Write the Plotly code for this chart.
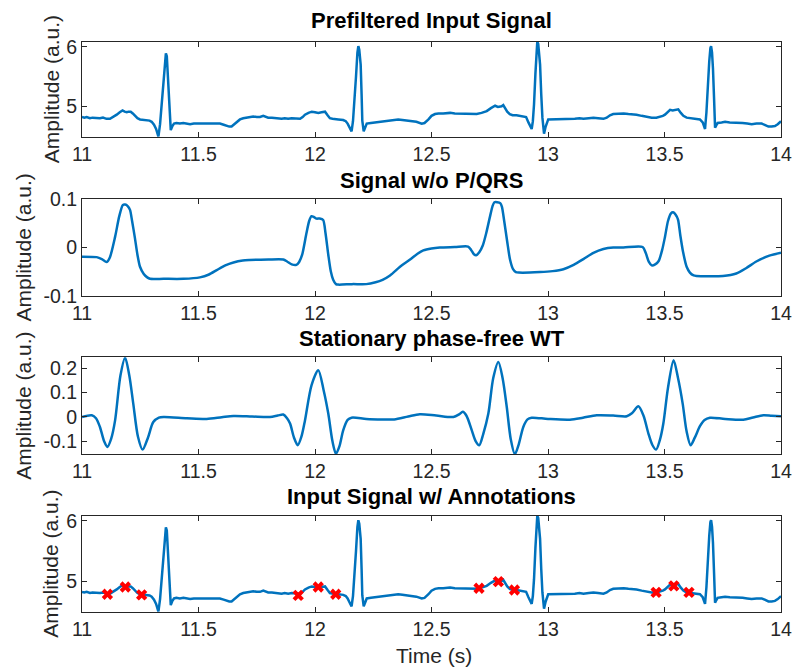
import plotly.graph_objects as go

# ---------------- data ----------------
ecg_t = [11.000, 11.010, 11.020, 11.034, 11.045, 11.060, 11.077, 11.090, 11.105, 11.120, 11.135, 11.149, 11.162, 11.174,
         11.183, 11.192, 11.200, 11.209, 11.218, 11.227, 11.238, 11.249, 11.262, 11.278, 11.290, 11.299, 11.309, 11.318,
         11.328, 11.335, 11.342, 11.350, 11.356, 11.360, 11.364, 11.370, 11.375, 11.378, 11.381, 11.388, 11.395, 11.405,
         11.420, 11.435, 11.450, 11.464, 11.480, 11.495, 11.506, 11.520, 11.535, 11.549, 11.565, 11.580, 11.592, 11.608,
         11.621, 11.632, 11.642, 11.653, 11.664, 11.678, 11.692, 11.705, 11.720, 11.735, 11.750, 11.764, 11.778, 11.790,
         11.799, 11.815, 11.830, 11.845, 11.857, 11.870, 11.885, 11.900, 11.920, 11.936, 11.947, 11.957, 11.972, 11.986,
         12.000, 12.014, 12.028, 12.043, 12.054, 12.064, 12.075, 12.086, 12.100, 12.121, 12.132, 12.140, 12.150, 12.157,
         12.163, 12.169, 12.176, 12.182, 12.186, 12.190, 12.196, 12.200, 12.203, 12.209, 12.215, 12.222, 12.240, 12.258,
         12.275, 12.295, 12.315, 12.335, 12.357, 12.375, 12.395, 12.415, 12.435, 12.458, 12.470, 12.487, 12.500, 12.515,
         12.530, 12.550, 12.580, 12.600, 12.620, 12.637, 12.660, 12.680, 12.694, 12.715, 12.737, 12.755, 12.773, 12.785,
         12.794, 12.801, 12.808, 12.816, 12.825, 12.836, 12.848, 12.865, 12.880, 12.895, 12.906, 12.916, 12.924, 12.930,
         12.935, 12.940, 12.946, 12.951, 12.954, 12.958, 12.962, 12.966, 12.971, 12.976, 12.983, 12.990, 13.001, 13.020,
         13.037, 13.060, 13.080, 13.094, 13.115, 13.135, 13.152, 13.175, 13.195, 13.215, 13.238, 13.252, 13.266, 13.280,
         13.302, 13.325, 13.345, 13.359, 13.380, 13.402, 13.425, 13.445, 13.465, 13.481, 13.493, 13.502, 13.514, 13.524,
         13.535, 13.545, 13.559, 13.570, 13.581, 13.595, 13.609, 13.630, 13.652, 13.664, 13.669, 13.674, 13.680, 13.685,
         13.692, 13.697, 13.700, 13.704, 13.708, 13.713, 13.717, 13.722, 13.728, 13.745, 13.760, 13.780, 13.800, 13.817,
         13.835, 13.855, 13.874, 13.895, 13.917, 13.930, 13.946, 13.960, 13.974, 13.986, 13.996, 14.000]
ecg_y = [4.82, 4.81, 4.82, 4.80, 4.81, 4.80, 4.80, 4.81, 4.79, 4.79, 4.82, 4.86, 4.90, 4.93,
         4.91, 4.90, 4.91, 4.91, 4.88, 4.84, 4.80, 4.78, 4.77, 4.76, 4.76, 4.74, 4.69, 4.62,
         4.49, 4.70, 5.03, 5.50, 5.82, 5.89, 5.84, 5.45, 5.00, 4.76, 4.60, 4.67, 4.71, 4.72,
         4.71, 4.72, 4.71, 4.70, 4.71, 4.71, 4.72, 4.71, 4.72, 4.71, 4.72, 4.71, 4.71, 4.69,
         4.67, 4.66, 4.66, 4.70, 4.74, 4.78, 4.80, 4.81, 4.82, 4.83, 4.82, 4.82, 4.84, 4.82,
         4.81, 4.81, 4.80, 4.80, 4.79, 4.80, 4.79, 4.80, 4.79, 4.79, 4.82, 4.86, 4.89, 4.91,
         4.90, 4.89, 4.90, 4.91, 4.85, 4.80, 4.79, 4.78, 4.78, 4.77, 4.75, 4.71, 4.63, 4.58,
         4.75, 5.03, 5.50, 5.90, 6.01, 5.95, 5.70, 5.20, 4.76, 4.58, 4.66, 4.71, 4.72, 4.73,
         4.74, 4.75, 4.76, 4.77, 4.78, 4.77, 4.76, 4.76, 4.74, 4.71, 4.72, 4.78, 4.84, 4.87,
         4.88, 4.88, 4.89, 4.88, 4.88, 4.88, 4.87, 4.87, 4.87, 4.89, 4.92, 4.97, 5.01, 4.99,
         4.99, 5.00, 5.02, 4.97, 4.91, 4.87, 4.85, 4.85, 4.84, 4.83, 4.82, 4.73, 4.65, 4.62,
         4.75, 5.03, 5.55, 5.95, 6.085, 6.05, 5.90, 5.70, 5.20, 4.81, 4.54, 4.66, 4.78, 4.78,
         4.78, 4.79, 4.78, 4.79, 4.79, 4.80, 4.79, 4.80, 4.81, 4.80, 4.79, 4.81, 4.85, 4.87,
         4.88, 4.88, 4.87, 4.87, 4.86, 4.84, 4.82, 4.81, 4.81, 4.82, 4.84, 4.86, 4.91, 4.94,
         4.93, 4.94, 4.95, 4.89, 4.84, 4.81, 4.80, 4.79, 4.78, 4.73, 4.68, 4.62, 4.90, 5.31,
         5.75, 5.98, 6.01, 5.90, 5.64, 5.10, 4.64, 4.68, 4.72, 4.73, 4.74, 4.73, 4.73, 4.72,
         4.72, 4.71, 4.70, 4.71, 4.71, 4.69, 4.66, 4.66, 4.67, 4.70, 4.74, 4.75]

nopqrs_t = [11.000, 11.063, 11.085, 11.106, 11.120, 11.142, 11.160, 11.175, 11.185, 11.196, 11.206, 11.215, 11.227,
            11.238, 11.249, 11.265, 11.280, 11.292, 11.350, 11.435, 11.506, 11.545, 11.578, 11.615, 11.650, 11.690,
            11.720, 11.800, 11.864, 11.880, 11.900, 11.920, 11.932, 11.945, 11.963, 11.975, 11.985, 11.996, 12.006,
            12.020, 12.035, 12.045, 12.057, 12.068, 12.078, 12.090, 12.100, 12.160, 12.220, 12.260, 12.290, 12.322,
            12.365, 12.408, 12.440, 12.465, 12.500, 12.536, 12.600, 12.657, 12.670, 12.682, 12.692, 12.705, 12.720,
            12.735, 12.750, 12.762, 12.770, 12.782, 12.795, 12.802, 12.812, 12.825, 12.837, 12.850, 12.862, 12.875,
            12.966, 13.020, 13.066, 13.110, 13.152, 13.195, 13.238, 13.280, 13.324, 13.406, 13.420, 13.433, 13.445,
            13.460, 13.475, 13.490, 13.502, 13.515, 13.528, 13.537, 13.548, 13.558, 13.568, 13.580, 13.595, 13.609,
            13.625, 13.637, 13.751, 13.808, 13.850, 13.894, 13.950, 14.000]
nopqrs_y = [-0.019, -0.020, -0.024, -0.030, -0.020, 0.022, 0.065, 0.088, 0.089, 0.086, 0.078, 0.055, 0.020,
            -0.015, -0.040, -0.055, -0.062, -0.065, -0.065, -0.065, -0.062, -0.056, -0.047, -0.037, -0.031, -0.027,
            -0.026, -0.025, -0.025, -0.029, -0.035, -0.036, -0.030, -0.015, 0.029, 0.055, 0.065, 0.063, 0.060,
            0.060, 0.057, 0.030, -0.015, -0.050, -0.067, -0.076, -0.077, -0.076, -0.076, -0.072, -0.067, -0.058,
            -0.040, -0.025, -0.013, -0.006, -0.002, 0.000, 0.001, 0.002, -0.005, -0.014, -0.016, -0.010, 0.004,
            0.030, 0.062, 0.086, 0.094, 0.094, 0.092, 0.085, 0.055, 0.012, -0.025, -0.045, -0.051, -0.052,
            -0.051, -0.049, -0.045, -0.036, -0.024, -0.011, -0.003, 0.000, 0.000, 0.001, -0.012, -0.030, -0.037,
            -0.035, -0.028, -0.005, 0.022, 0.055, 0.071, 0.073, 0.068, 0.058, 0.025, -0.010, -0.040, -0.052,
            -0.058, -0.059, -0.059, -0.054, -0.043, -0.029, -0.017, -0.011]

wt_t = [11.000, 11.042, 11.060, 11.077, 11.095, 11.109, 11.125, 11.142, 11.165, 11.185, 11.203, 11.220, 11.240,
        11.260, 11.283, 11.306, 11.330, 11.350, 11.450, 11.535, 11.600, 11.650, 11.730, 11.807, 11.840, 11.864,
        11.880, 11.893, 11.910, 11.926, 11.942, 11.957, 11.985, 12.014, 12.037, 12.057, 12.075, 12.090, 12.105,
        12.121, 12.140, 12.157, 12.220, 12.290, 12.340, 12.400, 12.450, 12.520, 12.594, 12.620, 12.634, 12.650,
        12.673, 12.690, 12.705, 12.722, 12.744, 12.765, 12.787, 12.805, 12.823, 12.840, 12.858, 12.875, 12.894,
        12.912, 12.930, 13.000, 13.094, 13.150, 13.209, 13.280, 13.338, 13.360, 13.388, 13.410, 13.431, 13.448,
        13.464, 13.480, 13.495, 13.515, 13.539, 13.558, 13.578, 13.595, 13.612, 13.630, 13.652, 13.672, 13.695,
        13.760, 13.838, 13.880, 13.924, 13.960, 14.000]
wt_y = [0.000, 0.007, -0.005, -0.041, -0.100, -0.123, -0.090, -0.014, 0.170, 0.244, 0.170, 0.055, -0.080,
        -0.134, -0.085, -0.021, -0.003, 0.000, -0.005, -0.008, -0.001, 0.004, 0.002, 0.000, 0.006, 0.010,
        -0.005, -0.027, -0.085, -0.116, -0.080, -0.014, 0.130, 0.192, 0.110, 0.014, -0.100, -0.151, -0.120,
        -0.055, -0.012, -0.003, -0.008, -0.010, -0.010, 0.002, 0.011, 0.006, 0.000, 0.012, 0.021, 0.005,
        -0.055, -0.100, -0.116, -0.070, 0.014, 0.160, 0.226, 0.160, 0.041, -0.090, -0.153, -0.110, -0.041,
        -0.010, -0.003, -0.008, -0.011, -0.003, 0.007, 0.006, 0.003, 0.015, 0.044, 0.005, -0.068, -0.115,
        -0.134, -0.095, -0.027, 0.120, 0.233, 0.160, 0.055, -0.060, -0.116, -0.085, -0.038, -0.012, -0.003,
        -0.008, -0.011, -0.002, 0.007, 0.005, 0.003]

ann_t = [11.109, 11.186, 11.256, 11.928, 12.014, 12.089, 12.704, 12.787, 12.856, 13.464, 13.540, 13.605]
ann_y = [4.78, 4.90, 4.77, 4.76, 4.90, 4.78, 4.88, 4.99, 4.85, 4.81, 4.92, 4.81]

titles = ["Prefiltered Input Signal", "Signal w/o P/QRS", "Stationary phase-free WT", "Input Signal w/ Annotations"]
x_ticks = [11, 11.5, 12, 12.5, 13, 13.5, 14]
x_ticklabels = ["11", "11.5", "12", "12.5", "13", "13.5", "14"]
y_ticks = [[5, 6], [-0.1, 0, 0.1], [-0.1, 0, 0.1, 0.2], [5, 6]]
y_ticklabels = [["5", "6"], ["-0.1", "0", "0.1"], ["-0.1", "0", "0.1", "0.2"], ["5", "6"]]
y_ranges = [[4.49, 6.085], [-0.1, 0.1], [-0.152, 0.245], [4.49, 6.085]]

# ---------------- layout ----------------
W, H = 795, 668
BLUE = "#0072BD"
AX = "#262626"
FONT = "Liberation Sans, Arial, Helvetica, sans-serif"
px_left, px_right = 82, 781
panels_px = [(41.7, 136.7), (199.3, 295.7), (357.3, 454.0), (515.7, 611.7)]
title_py = [20, 180, 338, 496]
ylabel_px = [51, 23, 24, 51]

fig = go.Figure()
fig.add_trace(go.Scatter(x=ecg_t, y=ecg_y, mode="lines", line=dict(color=BLUE, width=2.5),
                         xaxis="x", yaxis="y", showlegend=False))
fig.add_trace(go.Scatter(x=nopqrs_t, y=nopqrs_y, mode="lines", line=dict(color=BLUE, width=2.5, shape="spline", smoothing=0.7),
                         xaxis="x2", yaxis="y2", showlegend=False))
fig.add_trace(go.Scatter(x=wt_t, y=wt_y, mode="lines", line=dict(color=BLUE, width=2.5, shape="spline", smoothing=0.8),
                         xaxis="x3", yaxis="y3", showlegend=False))
fig.add_trace(go.Scatter(x=ecg_t, y=ecg_y, mode="lines", line=dict(color=BLUE, width=2.5),
                         xaxis="x4", yaxis="y4", showlegend=False))
fig.add_trace(go.Scatter(x=ann_t, y=ann_y, mode="markers",
                         marker=dict(symbol="x", size=10, color="#FF0000", line=dict(width=0)),
                         xaxis="x4", yaxis="y4", showlegend=False))

layout = dict(width=W, height=H, margin=dict(l=0, r=0, t=0, b=0, autoexpand=False),
              paper_bgcolor="white", plot_bgcolor="white",
              font=dict(family=FONT, size=19, color=AX), annotations=[])
xd = [px_left / W, px_right / W]
for i, (top, bot) in enumerate(panels_px):
    k = "" if i == 0 else str(i + 1)
    yd = [1 - bot / H, 1 - top / H]
    layout["xaxis" + k] = dict(domain=xd, range=[11, 14], anchor="y" + k, showline=True, linecolor=AX, linewidth=1,
                               mirror="allticks", ticks="inside", ticklen=5, tickcolor=AX, showgrid=False,
                               zeroline=False, tickvals=x_ticks, ticktext=x_ticklabels, automargin=False,
                               tickfont=dict(family=FONT, size=19.5, color=AX))
    layout["yaxis" + k] = dict(domain=yd, range=y_ranges[i], anchor="x" + k, showline=True, linecolor=AX, linewidth=1,
                               mirror="allticks", ticks="inside", ticklen=5, tickcolor=AX, showgrid=False,
                               zeroline=False, tickvals=y_ticks[i], ticktext=y_ticklabels[i], automargin=False,
                               tickfont=dict(family=FONT, size=19.5, color=AX))
    layout["annotations"].append(dict(text="<b>" + titles[i] + "</b>", xref="paper", yref="paper",
                                      x=(px_left + px_right) / 2 / W, y=1 - title_py[i] / H,
                                      xanchor="center", yanchor="middle", showarrow=False,
                                      font=dict(family=FONT, size=22, color="black")))
    layout["annotations"].append(dict(text="Amplitude (a.u.)", xref="paper", yref="paper",
                                      x=ylabel_px[i] / W, y=1 - (top + bot) / 2 / H, textangle=-90,
                                      xanchor="center", yanchor="middle", showarrow=False,
                                      font=dict(family=FONT, size=21, color=AX)))
layout["annotations"].append(dict(text="Time (s)", xref="paper", yref="paper", x=434 / W, y=1 - 655 / H,
                                  xanchor="center", yanchor="middle", showarrow=False,
                                  font=dict(family=FONT, size=21, color=AX)))
fig.update_layout(**layout)
fig.write_html("out.html", config={"displayModeBar": False},
               post_script="document.body.style.margin='0';document.body.style.overflow='hidden';")
